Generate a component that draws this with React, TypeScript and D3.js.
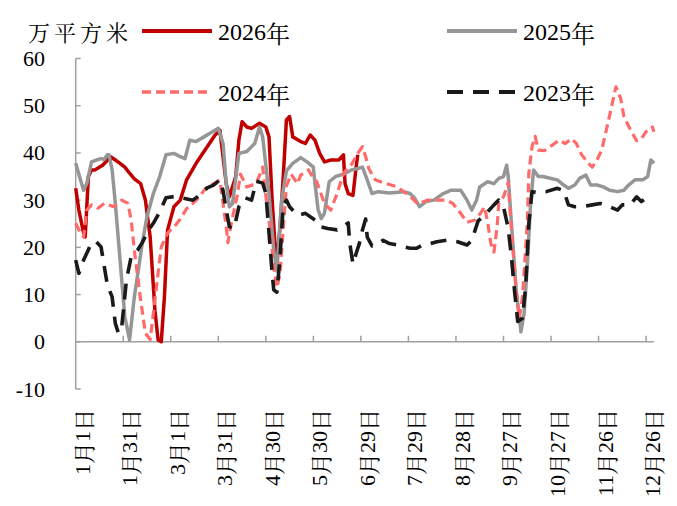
import React from 'react';
import * as d3 from 'd3';

const yTicks: number[] = [-10, 0, 10, 20, 30, 40, 50, 60];
const xTickDays: number[] = [0, 30, 60, 90, 120, 150, 180, 210, 240, 270, 300, 330, 360];
const xTickLabels: string[] = ['1月1日', '1月31日', '3月1日', '3月31日', '4月30日', '5月30日', '6月29日', '7月29日', '8月28日', '9月27日', '10月27日', '11月26日', '12月26日'];
const unitLabel = '万平方米';
const seriesNames: string[] = ['2026年', '2025年', '2024年', '2023年'];

// [day of year (0 = 1月1日), 万平方米]
const data2026: [number, number][] = [
  [0, 32.5], [2, 27.9], [5, 23], [6, 22.2], [8, 35], [10, 36.4], [12, 36.4], [17, 37.4], [22, 39.2], [25, 38.5],
  [28, 37.8], [31, 37], [34, 35.7], [37, 34.5], [41, 33.5], [44, 30], [47, 22.2], [50, 6.7], [52, 0.4], [54, 0],
  [56, 9.5], [58, 23.7], [62, 28.6], [66, 30], [70, 34.3], [76, 37.8], [83, 41.3], [88, 43.8], [91, 44.8], [95, 33.5],
  [97, 30.7], [101, 35], [103, 42.7], [105, 46.6], [108, 45.5], [111, 45.2], [116, 46.3], [120, 45.5], [122, 43.4], [124, 30],
  [126, 19.4], [127, 17.3], [129, 24.4], [131, 35], [133, 47], [135, 47.7], [137, 43.4], [142, 42.4], [145, 42], [148, 43.8],
  [151, 42.7], [154, 39.9], [157, 38.1], [161, 38.5], [166, 38.5], [169, 39.6], [170, 33.5], [172, 31.4], [175, 31], [177, 37],
  [178, 39.6],
];

const data2025: [number, number][] = [
  [0, 37.8], [3, 34.3], [5, 32.1], [7, 33.5], [10, 38.1], [13, 38.5], [16, 38.8], [18, 38.6], [20, 39.6], [21, 39.6],
  [23, 36.4], [25, 29.3], [28, 17.3], [31, 5.3], [34, 0.4], [37, 9.5], [42, 20.8], [45, 26.5], [49, 31.4], [53, 35],
  [57, 39.6], [62, 39.9], [66, 39.2], [69, 38.8], [72, 42.7], [76, 42.4], [81, 43.4], [85, 44.2], [90, 45.2], [93, 42],
  [95, 33.5], [97, 28.6], [99, 29.3], [103, 39.9], [108, 40.3], [113, 42], [116, 45.5], [118, 43.4], [122, 31.4], [125, 19.4],
  [127, 15], [130, 30], [133, 36.2], [137, 37.8], [142, 39], [146, 38.1], [150, 37], [151, 33.5], [153, 28], [155, 26.1],
  [157, 27.2], [160, 33.9], [164, 35], [169, 35.5], [174, 36.4], [178, 36.7], [181, 37], [184, 34.3], [187, 31.4], [191, 31.8],
  [198, 31.5], [207, 31.8], [211, 31.4], [214, 30.4], [217, 28.6], [221, 29.7], [226, 30], [232, 31.4], [237, 32.1], [243, 32.1],
  [247, 30], [250, 27.9], [253, 30], [255, 32.8], [260, 33.9], [264, 33.5], [267, 34.6], [270, 35], [272, 37.4], [273, 35],
  [275, 25.1], [278, 11], [281, 2.1], [283, 6], [285, 16], [287, 28.6], [289, 36.4], [292, 35], [295, 35], [300, 34.6],
  [304, 34.3], [308, 33.2], [311, 32.5], [315, 33.2], [318, 34.6], [322, 35.3], [325, 33.2], [329, 33.2], [333, 32.8], [337, 32.1],
  [342, 31.8], [346, 32.1], [349, 33.2], [353, 34.3], [358, 34.3], [361, 35], [363, 38.5], [365, 37.8],
];

const data2024: [number, number][] = [
  [0, 25.1], [3, 23], [5, 22.2], [7, 27.9], [10, 29], [14, 28.3], [18, 29.3], [24, 28.6], [29, 30], [33, 29.3],
  [35, 25.8], [37, 19.4], [41, 8.8], [44, 1.8], [47, 0.5], [49, 6], [52, 14.5], [54, 20.1], [58, 23], [63, 24.7],
  [66, 26], [70, 28.2], [74, 29.3], [78, 30.7], [82, 32.5], [87, 33.5], [91, 34.2], [93, 29.3], [95, 24.4], [96, 21],
  [98, 24.8], [102, 31], [104, 35.5], [108, 32.8], [114, 33.5], [118, 37], [120, 31], [123, 23], [125, 15.9], [127, 11.5],
  [129, 14.5], [131, 24], [133, 33], [136, 35.5], [140, 33.5], [142, 35.3], [147, 36.4], [150, 34.6], [152, 34], [157, 29.3],
  [161, 27.9], [165, 31.4], [169, 35.7], [174, 37.5], [178, 39.9], [181, 41.3], [183, 39.2], [185, 36.7], [189, 34.3], [196, 33.5],
  [203, 32.8], [211, 30.8], [216, 29.2], [222, 30], [228, 30], [234, 30], [238, 29.3], [243, 27.2], [247, 25.3], [252, 25.8],
  [255, 27], [258, 28.6], [260, 25.4], [262, 20.8], [264, 19], [266, 24.5], [267, 29.3], [270, 30.7], [273, 33.8], [274, 28.6],
  [276, 19.4], [278, 11], [280, 5], [282, 9.5], [285, 25], [286, 35.7], [288, 41.3], [290, 43.5], [292, 40.6], [296, 40.5],
  [301, 41.7], [305, 42.7], [309, 42], [313, 43], [316, 42], [319, 39.8], [323, 38], [326, 37], [329, 38.5], [332, 40.6],
  [335, 45], [338, 49.5], [341, 54], [344, 51.5], [346, 47.7], [350, 45], [354, 42.6], [357, 43], [360, 44.5], [364, 45.5],
  [365, 44.5],
];

const data2023: [number, number][] = [
  [0, 17.3], [2, 14.5], [5, 17.3], [8, 19.5], [10, 21], [13, 21.2], [16, 20.1], [18, 16], [20, 12], [23, 9.5],
  [25, 3.9], [27, 1.8], [29, 3], [32, 13], [35, 18], [39, 19.4], [42, 21], [46, 23.7], [49, 25.1], [53, 27.5],
  [57, 30.5], [63, 30.8], [68, 30.4], [74, 30], [78, 31], [83, 32.6], [87, 33.2], [91, 34.3], [93, 32], [95, 27.9],
  [97, 24.4], [100, 24], [103, 28.6], [107, 30.5], [111, 30], [114, 34], [118, 33.6], [120, 31.5], [122, 23], [124, 14.5],
  [125, 11], [127, 10.5], [129, 18], [131, 29], [133, 30], [135, 28.6], [140, 26.8], [145, 27.2], [151, 25.8], [154, 24.4],
  [159, 24], [165, 23.7], [169, 24.4], [172, 25.2], [173, 20.8], [175, 16.5], [177, 18.7], [179, 20.8], [181, 23.7], [183, 26],
  [184, 22.2], [187, 20.3], [190, 20.5], [194, 21.5], [198, 20.8], [203, 20.5], [207, 20.1], [211, 19.8], [215, 19.8], [219, 20.5],
  [224, 20.8], [228, 21.2], [234, 21.5], [241, 21.2], [247, 20.5], [250, 21.5], [254, 25.6], [258, 26.8], [264, 29], [267, 30],
  [270, 28.6], [273, 24], [275, 18], [277, 10.7], [279, 4.3], [282, 5], [284, 11.7], [286, 25.1], [288, 31.8], [291, 31.6],
  [294, 31.8], [297, 31.8], [304, 32.5], [308, 32], [311, 29], [315, 28.6], [320, 28.6], [326, 29], [331, 29.3], [337, 28.6],
  [342, 27.9], [345, 29], [350, 29], [354, 30.7], [357, 29.7], [360, 30.4], [363, 29.3],
];

const LATIN = "'Liberation Serif', 'Times New Roman', serif";
const CJK = "'Noto Serif CJK SC', 'Noto Sans CJK SC', serif";

const styles = [
  { data: data2026, color: '#C00000', width: 3.5, dash: undefined as string | undefined },
  { data: data2025, color: '#969696', width: 3.5, dash: undefined as string | undefined },
  { data: data2024, color: '#FF6B6B', width: 3.2, dash: '9 5' },
  { data: data2023, color: '#1A1A1A', width: 3.6, dash: '16 10' },
];

// split a label into ASCII / CJK runs so digits use a Times-like face and Han uses a serif CJK face
function runs(s: string): { t: string; cjk: boolean }[] {
  const out: { t: string; cjk: boolean }[] = [];
  for (const ch of s) {
    const cjk = ch.charCodeAt(0) > 255;
    if (out.length && out[out.length - 1].cjk === cjk) out[out.length - 1].t += ch;
    else out.push({ t: ch, cjk });
  }
  return out;
}

function Mixed({ s }: { s: string }) {
  return (
    <>
      {runs(s).map((r, i) => (
        <tspan key={i} style={{ fontFamily: r.cjk ? CJK : LATIN }}>{r.t}</tspan>
      ))}
    </>
  );
}

export default function App() {
  const x = d3.scaleLinear().domain([0, 365]).range([75.7, 654]);
  const y = d3.scaleLinear().domain([-10, 60]).range([389, 58.5]);
  const line = d3.line<[number, number]>().x(d => x(d[0])).y(d => y(d[1]));
  const axisColor = '#A0A0A0';

  const legendPos = [
    { lx: 142, ly: 31 },
    { lx: 447, ly: 31 },
    { lx: 142, ly: 92 },
    { lx: 447, ly: 92 },
  ];

  return (
    <svg width={677} height={506} style={{ position: 'absolute', left: 0, top: 0, background: '#fff', fontFamily: LATIN }}>
      <rect x={0} y={0} width={677} height={506} fill="#fff" />
      {/* y axis */}
      <line x1={x(0)} x2={x(0)} y1={y(60)} y2={y(-10)} stroke={axisColor} strokeWidth={1.5} />
      {yTicks.map(t => (
        <g key={t}>
          <line x1={x(0)} x2={x(0) + 5} y1={y(t)} y2={y(t)} stroke={axisColor} strokeWidth={1.5} />
          <text x={45} y={y(t)} textAnchor="end" dominantBaseline="central" fontSize={22} fill="#000" style={{ fontFamily: LATIN }}>{t}</text>
        </g>
      ))}
      {/* x axis at 0 */}
      <line x1={x(0)} x2={x(365)} y1={y(0)} y2={y(0)} stroke={axisColor} strokeWidth={1.5} />
      {xTickDays.map((d, i) => (
        <g key={d}>
          {i > 0 && <line x1={x(d)} x2={x(d)} y1={y(0)} y2={y(0) - 6} stroke={axisColor} strokeWidth={1.5} />}
          <text transform={`translate(${x(d) + 6},409) rotate(-90)`} textAnchor="end" dominantBaseline="central" fontSize={22} fill="#000"><Mixed s={xTickLabels[i]} /></text>
        </g>
      ))}
      {/* series */}
      {styles.map((s, i) => (
        <path key={i} d={line(s.data) || ''} fill="none" stroke={s.color} strokeWidth={s.width} strokeDasharray={s.dash} strokeLinejoin="round" />
      ))}
      {/* legend */}
      <text x={28} y={31} dominantBaseline="central" fontSize={22} letterSpacing={4} fill="#000" style={{ fontFamily: CJK }}>{unitLabel}</text>
      {styles.map((s, i) => (
        <g key={'lg' + i}>
          <line x1={legendPos[i].lx} x2={legendPos[i].lx + 70} y1={legendPos[i].ly} y2={legendPos[i].ly} stroke={s.color} strokeWidth={s.width + 0.5} strokeDasharray={s.dash} />
          <text x={legendPos[i].lx + 76} y={legendPos[i].ly + 1} dominantBaseline="central" fontSize={24} fill="#000"><Mixed s={seriesNames[i]} /></text>
        </g>
      ))}
    </svg>
  );
}
